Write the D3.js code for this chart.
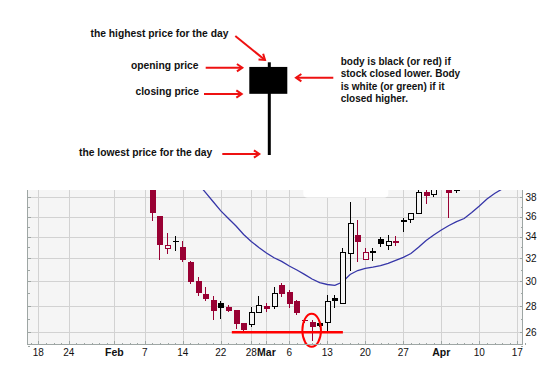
<!DOCTYPE html>
<html>
<head>
<meta charset="utf-8">
<script src="https://cdn.jsdelivr.net/npm/d3@7"></script>
<style>
body { margin: 0; background: #fff; }
svg { display: block; }
text { font-family: "Liberation Sans", Arial, sans-serif; }
</style>
</head>
<body>
<div class="chart"></div>
<script>
// daily candles, 2012
var dates = ["2012-02-08","2012-02-09","2012-02-10","2012-02-13","2012-02-14","2012-02-15","2012-02-16","2012-02-17",
  "2012-02-21","2012-02-22","2012-02-23","2012-02-24","2012-02-27","2012-02-28","2012-02-29","2012-03-01","2012-03-02",
  "2012-03-05","2012-03-06","2012-03-07","2012-03-08","2012-03-09","2012-03-12","2012-03-13","2012-03-14","2012-03-15",
  "2012-03-16","2012-03-19","2012-03-20","2012-03-21","2012-03-22","2012-03-23","2012-03-26","2012-03-27","2012-03-28",
  "2012-03-29","2012-03-30","2012-04-02","2012-04-03","2012-04-04","2012-04-05"];
var opens  = [40.0,36.06,32.93,33.63,33.02,31.68,30.04,28.96,28.47,28.23,27.92,27.68,26.67,26.59,27.5,28.02,27.94,
  29.67,29.12,28.42,26.9,26.76,26.67,26.76,28.66,28.21,32.47,34.18,31.92,32.65,33.77,33.23,33.62,35.58,35.72,
  36.33,38.54,38.25,39.4,39.3,38.82];
var highs  = [40.6,36.1,34.34,34.08,33.58,31.77,30.37,29.51,28.79,28.42,28.1,27.7,26.7,27.92,28.79,28.26,29.56,
  29.89,29.28,28.47,26.95,26.9,26.78,28.87,28.87,32.93,37.54,35.65,32.95,32.97,34.0,34.18,34.08,35.88,36.35,
  38.95,38.9,39.3,39.8,39.5,39.0];
var lows   = [35.58,31.86,32.4,32.65,31.68,29.81,28.79,28.42,26.91,26.97,27.53,26.27,26.1,26.41,27.45,27.56,27.74,
  28.74,27.81,27.32,26.72,25.39,26.41,26.12,27.86,28.15,30.92,31.71,31.9,31.77,33.07,32.77,33.16,34.5,35.32,
  36.3,37.26,38.0,38.95,35.88,38.45];
var closes = [36.39,33.26,33.2,33.61,31.86,29.97,29.06,28.58,27.63,27.86,27.63,26.61,26.19,27.5,28.05,27.74,29.01,
  28.97,28.13,27.47,26.85,26.37,26.5,28.39,28.42,32.58,35.32,33.54,32.56,32.66,33.32,33.58,33.4,35.6,36.33,
  38.5,38.17,39.0,39.5,38.43,38.68];

// moving average, first value on Feb 16, runs past the last candle
var maStart = "2012-02-16";
var maValues = [39.5,38.5,37.53,36.58,35.8,35.05,34.23,33.56,33.0,32.49,32.06,31.73,31.33,30.98,30.6,30.2,29.89,
  29.74,29.67,29.95,30.59,30.93,31.11,31.22,31.35,31.55,31.82,32.09,32.45,33.02,33.66,34.18,34.66,35.1,35.48,
  35.8,36.41,37.08,37.82,38.41,38.9,39.45];

var tickDates = ["2012-01-18","2012-01-24","2012-02-01","2012-02-07","2012-02-14","2012-02-22","2012-02-28",
  "2012-03-01","2012-03-06","2012-03-13","2012-03-20","2012-03-27","2012-04-03","2012-04-10","2012-04-17"];
var tickLabels = ["18","24","Feb","7","14","22","28","Mar","6","13","20","27","Apr","10","17"];
var yTicks = [26, 28, 30, 32, 34, 36, 38];
var holidays = ["2012-01-16", "2012-02-20"];

var supportLevel = 26;
var supportSpan = ["2012-02-23", "2012-03-15"];
var circledDay = "2012-03-09";

// the sample candle at the top
var demo = {high: 100, open: 95, close: 66, low: 0};
var notes = [
  {text: "the highest price for the day", x: 90.5, y: 36.7},
  {text: "opening price", x: 131, y: 68.5},
  {text: "closing price", x: 135.5, y: 94.5},
  {text: "the lowest price for the day", x: 79, y: 155.7}
];
var sideNote = ["body is black (or red) if", "stock closed lower. Body", "is white (or green) if it", "closed higher."];
var arrows = [[235.3, 36, 265, 60], [205.7, 67.7, 242.3, 67.7], [204, 94, 241.7, 94],
  [222.3, 154, 259.3, 154], [333.3, 77.7, 296, 77.7]];

var W = 551, H = 368;
var red = "#990033", annot = "#ee1111";
var plot = {left: 27.5, right: 522.5, top: 190, bottom: 344.5};

var svg = d3.select('.chart').append('svg')
  .attr('width', W)
  .attr('height', H);

// trading days on the axis
var fmt = d3.timeFormat("%Y-%m-%d");
var days = d3.timeDay.range(new Date(2012, 0, 17), new Date(2012, 3, 19))
  .filter(function(d) { return d.getDay() > 0 && d.getDay() < 6; })
  .map(fmt)
  .filter(function(s) { return holidays.indexOf(s) < 0; });
var dayIndex = new Map(days.map(function(s, i) { return [s, i]; }));

var x = d3.scaleLinear().domain([-0.45, 64.7]).range([27.3, 522.7]);
var y = d3.scaleLog().domain([26, 38]).range([332.3, 197.3]);
var xd = function(s) { return x(dayIndex.get(s)); };

// ---- annotation diagram on top
var demoY = d3.scaleLinear().domain([0, 100]).range([155, 62.3]);
var header = svg.append('g');
header.append('rect')
  .attr('x', 267.8).attr('width', 3)
  .attr('y', demoY(demo.high)).attr('height', demoY(demo.low) - demoY(demo.high))
  .attr('fill', '#000');
header.append('rect')
  .attr('x', 249.3).attr('width', 38)
  .attr('y', demoY(demo.open)).attr('height', demoY(demo.close) - demoY(demo.open))
  .attr('fill', '#000');

header.selectAll('text.note')
  .data(notes)
  .enter()
  .append('text')
  .attr('class', 'note')
  .attr('x', function(d) { return d.x; })
  .attr('y', function(d) { return d.y; })
  .attr('font-size', 10.3)
  .attr('font-weight', 'bold')
  .attr('fill', '#111')
  .text(function(d) { return d.text; });

header.selectAll('text.side')
  .data(sideNote)
  .enter()
  .append('text')
  .attr('class', 'side')
  .attr('x', 340.7)
  .attr('y', function(d, i) { return 65 + i * 12.45; })
  .attr('font-size', 10)
  .attr('font-weight', 'bold')
  .attr('fill', '#111')
  .text(function(d) { return d; });

arrows.forEach(function(a) {
  var ang = Math.atan2(a[3] - a[1], a[2] - a[0]);
  var len = 6.5, spread = 0.6;
  var p1 = [a[2] - len * Math.cos(ang - spread), a[3] - len * Math.sin(ang - spread)];
  var p2 = [a[2] - len * Math.cos(ang + spread), a[3] - len * Math.sin(ang + spread)];
  header.append('line')
    .attr('x1', a[0]).attr('y1', a[1]).attr('x2', a[2]).attr('y2', a[3])
    .attr('stroke', annot).attr('stroke-width', 2);
  header.append('path')
    .attr('d', 'M' + p1 + 'L' + a[2] + ',' + a[3] + 'L' + p2)
    .attr('fill', 'none').attr('stroke', annot).attr('stroke-width', 2);
});

// ---- price chart
svg.append('clipPath').attr('id', 'clip')
  .append('rect')
  .attr('x', plot.left).attr('y', plot.top)
  .attr('width', plot.right - plot.left).attr('height', plot.bottom - plot.top);

svg.append('rect')
  .attr('x', plot.left).attr('y', plot.top)
  .attr('width', plot.right - plot.left).attr('height', plot.bottom - plot.top)
  .attr('fill', '#f5f5f5');

var grid = svg.append('g').attr('clip-path', 'url(#clip)')
  .attr('stroke', '#d2d2d2').attr('shape-rendering', 'crispEdges');
grid.selectAll('line.h')
  .data(yTicks)
  .enter()
  .append('line')
  .attr('x1', plot.left).attr('x2', plot.right)
  .attr('y1', function(d) { return Math.round(y(d)) + 0.5; })
  .attr('y2', function(d) { return Math.round(y(d)) + 0.5; });
grid.selectAll('line.v')
  .data(tickDates)
  .enter()
  .append('line')
  .attr('y1', plot.top).attr('y2', plot.bottom)
  .attr('x1', function(d) { return Math.round(xd(d)) + 0.5; })
  .attr('x2', function(d) { return Math.round(xd(d)) + 0.5; });

var chart = svg.append('g').attr('clip-path', 'url(#clip)');

// moving average
var maFrom = dayIndex.get(maStart);
chart.append('path')
  .datum(maValues)
  .attr('fill', 'none')
  .attr('stroke', '#3636a8')
  .attr('stroke-width', 1.3)
  .attr('d', d3.line()
    .x(function(d, i) { return x(maFrom + i); })
    .y(function(d) { return y(d); }));

// candles
var candles = dates.map(function(d, i) {
  return {date: d, o: opens[i], h: highs[i], l: lows[i], c: closes[i],
    down: i === 0 ? true : closes[i] < closes[i - 1]};
});

var candle = chart.selectAll('g.candle')
  .data(candles)
  .enter()
  .append('g')
  .attr('class', 'candle')
  .attr('shape-rendering', 'crispEdges');

candle.append('line')
  .attr('x1', function(d) { return Math.floor(xd(d.date)) + 0.5; })
  .attr('x2', function(d) { return Math.floor(xd(d.date)) + 0.5; })
  .attr('y1', function(d) { return y(d.h); })
  .attr('y2', function(d) { return y(d.l); })
  .attr('stroke', function(d) { return d.down ? red : '#000'; })
  .attr('stroke-width', 1);

candle.append('rect')
  .attr('x', function(d) { return Math.floor(xd(d.date)) - (d.c < d.o ? 2.5 : 2); })
  .attr('width', function(d) { return d.c < d.o ? 6 : 5; })
  .attr('y', function(d) { return y(Math.max(d.o, d.c)); })
  .attr('height', function(d) { return Math.max(1, Math.abs(y(d.o) - y(d.c))); })
  .attr('fill', function(d) { return d.c < d.o ? (d.down ? red : '#000') : '#f5f5f5'; })
  .attr('stroke', function(d) { return d.down ? red : '#000'; })
  .attr('stroke-width', function(d) { return d.c < d.o ? 0 : 1; });

// support line and circled candle
chart.append('line')
  .attr('x1', xd(supportSpan[0]) + 3.4).attr('x2', xd(supportSpan[1]) + 0.4)
  .attr('y1', y(supportLevel)).attr('y2', y(supportLevel))
  .attr('stroke', '#ff0000').attr('stroke-width', 2.6);

svg.append('ellipse')
  .attr('cx', xd(circledDay) - 0.4)
  .attr('cy', y(supportLevel) - 2)
  .attr('rx', 9.3).attr('ry', 16.5)
  .attr('fill', 'none').attr('stroke', '#ff0000').attr('stroke-width', 2);

// frame and axes
var axisColor = '#9ea6a4';
var frame = svg.append('g').attr('stroke', axisColor).attr('shape-rendering', 'crispEdges');
frame.append('line').attr('x1', plot.left).attr('x2', plot.left).attr('y1', plot.top).attr('y2', plot.bottom);
frame.append('line').attr('x1', plot.right).attr('x2', plot.right).attr('y1', plot.top).attr('y2', plot.bottom);
frame.append('line').attr('x1', plot.left).attr('x2', plot.right).attr('y1', plot.bottom).attr('y2', plot.bottom);

var minorY = d3.range(25, 39);
frame.selectAll('line.ly')
  .data(minorY)
  .enter()
  .append('line')
  .attr('x1', plot.left).attr('x2', function(d) { return plot.left + (d % 2 ? 2 : 3); })
  .attr('y1', function(d) { return Math.round(y(d)) + 0.5; })
  .attr('y2', function(d) { return Math.round(y(d)) + 0.5; });
frame.selectAll('line.ry')
  .data(minorY)
  .enter()
  .append('line')
  .attr('x1', plot.right).attr('x2', function(d) { return plot.right - (d % 2 ? 2 : 3); })
  .attr('y1', function(d) { return Math.round(y(d)) + 0.5; })
  .attr('y2', function(d) { return Math.round(y(d)) + 0.5; });

var majorX = new Set(tickDates);
frame.selectAll('line.tx')
  .data(days)
  .enter()
  .append('line')
  .attr('x1', function(d) { return Math.round(xd(d)) + 0.5; })
  .attr('x2', function(d) { return Math.round(xd(d)) + 0.5; })
  .attr('y1', plot.bottom)
  .attr('y2', function(d) { return plot.bottom - (majorX.has(d) ? 4 : 2); });

svg.append('g')
  .selectAll('text')
  .data(yTicks)
  .enter()
  .append('text')
  .attr('x', 525.5)
  .attr('y', function(d) { return y(d); })
  .attr('dy', '0.36em')
  .attr('font-size', 10)
  .attr('fill', '#111')
  .text(function(d) { return d; });

svg.append('g')
  .selectAll('text')
  .data(tickDates)
  .enter()
  .append('text')
  .attr('x', function(d) { return xd(d); })
  .attr('y', 356)
  .attr('text-anchor', 'middle')
  .attr('font-size', function(d, i) { return /[A-Za-z]/.test(tickLabels[i]) ? 10.5 : 10; })
  .attr('font-weight', function(d, i) { return /[A-Za-z]/.test(tickLabels[i]) ? 'bold' : 'normal'; })
  .attr('fill', '#111')
  .text(function(d, i) { return tickLabels[i]; });

// white patch over the top of the chart
svg.append('rect')
  .attr('x', 303.3).attr('y', 170)
  .attr('width', 85).attr('height', 27.5)
  .attr('rx', 4)
  .attr('fill', '#fff');
</script>
</body>
</html>
